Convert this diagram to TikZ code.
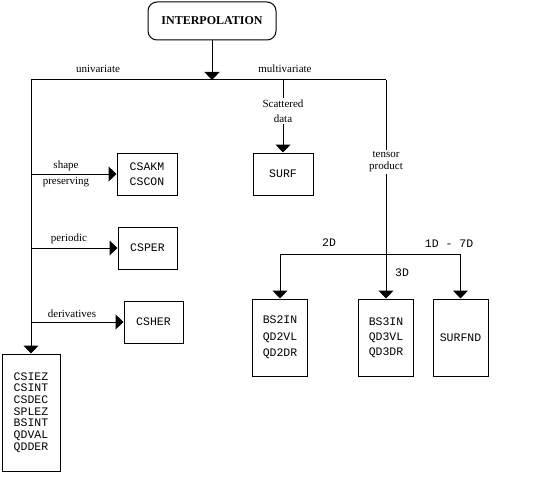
\documentclass[tikz,border=0pt]{standalone}
\usepackage{fontspec}
\setmainfont{Liberation Serif}
\setmonofont{Liberation Mono}
\usetikzlibrary{positioning,arrows.meta}
\tikzset{
  titulo/.style={draw, rounded corners=9pt, minimum width=128pt, minimum height=38pt, font=\fontsize{12}{14}\selectfont\bfseries},
  rutina/.style={draw, align=center, font=\fontsize{11.5}{15}\selectfont\ttfamily},
  etiq/.style={align=center, font=\fontsize{11}{15}\selectfont, inner sep=1pt},
  dim/.style={font=\fontsize{11.5}{13}\selectfont\ttfamily, inner sep=0pt},
  flecha/.style={-{Triangle[length=8pt,width=15pt]}},
}

\begin{document}
\begin{tikzpicture}[x=1pt, y=-1pt, line width=1pt]
  \useasboundingbox (0,0) rectangle (535,484);
  \node[titulo] (interp) at (212,21) {INTERPOLATION};
  \coordinate (ramas) at (212,80);
  \coordinate (izq) at (31,80);
  \coordinate (disp) at (283,80);
  \coordinate (der) at (386,80);
  \draw (izq) -- (der);
  \draw[flecha] (interp) -- (ramas);
  \node[etiq] (univ) at (98,69) {univariate};
  \node[etiq] (multi) at (285,69) {multivariate};
  % univariate
  \node[rutina, minimum width=60pt, minimum height=42pt] (csakm) at (147,174) {CSAKM\\CSCON};
  \node[rutina, minimum width=59pt, minimum height=42pt] (csper) at (147.5,248) {CSPER};
  \node[rutina, minimum width=59pt, minimum height=42pt] (csher) at (153.5,322) {CSHER};
  \node[rutina, minimum width=58pt, minimum height=117pt, font=\fontsize{11.5}{11.7}\selectfont\ttfamily] (csiez) at (31,412.5)
    {CSIEZ\\CSINT\\CSDEC\\SPLEZ\\BSINT\\QDVAL\\QDDER};
  \draw[flecha] (izq) -- (csiez);
  \draw[flecha] (izq |- csakm) -- (csakm);
  \draw[flecha] (izq |- csper) -- (csper);
  \draw[flecha] (izq |- csher) -- (csher);
  \node[etiq, font=\fontsize{11}{16}\selectfont] (forma) at (66,174) {shape\\preserving};
  \node[etiq] (peri) at (69,239) {periodic};
  \node[etiq] (deri) at (72,314) {derivatives};
  % multivariate
  \node[etiq] (scat) at (283,111) {Scattered\\data};
  \node[rutina, minimum width=60pt, minimum height=42pt] (surf) at (283,174) {SURF};
  \draw (disp) -- (scat);
  \draw[flecha] (scat) -- (surf);
  \node[etiq, font=\fontsize{11}{12}\selectfont, fill=white] (tens) at (386,162) {tensor\\product};
  \node[rutina, minimum width=55pt, minimum height=77pt, font=\fontsize{11.5}{16.5}\selectfont\ttfamily] (bs2in) at (280,337.5) {BS2IN\\QD2VL\\QD2DR};
  \node[rutina, minimum width=55pt, minimum height=77pt] (bs3in) at (386,337.5) {BS3IN\\QD3VL\\QD3DR};
  \node[rutina, minimum width=55pt, minimum height=77pt] (surfnd) at (460.5,337.5) {SURFND};
  \coordinate (tres) at (386,254);
  \draw (der) -- (tens);
  \draw[flecha] (tens) -- (bs3in);
  \draw[flecha] (tres) -| (bs2in);
  \draw[flecha] (tres) -| (surfnd);
  \node[dim] (dos) at (329,243) {2D};
  \node[dim] (todos) at (449,244) {1D - 7D};
  \node[dim] (tresd) at (402,273) {3D};
\end{tikzpicture}
\end{document}
